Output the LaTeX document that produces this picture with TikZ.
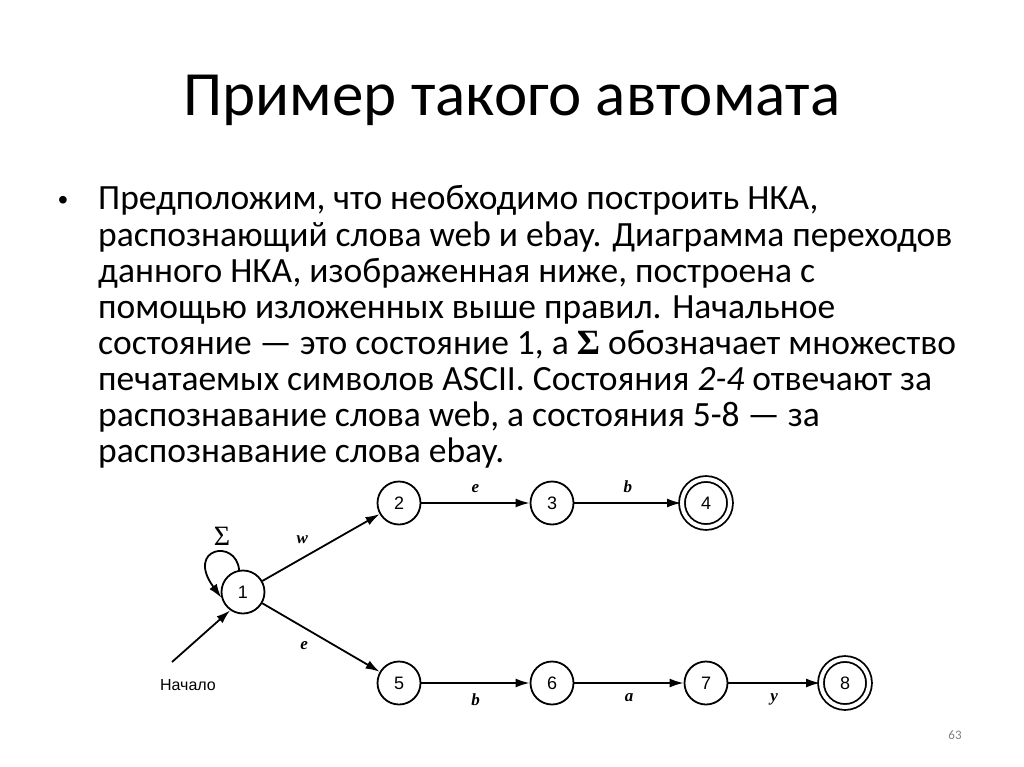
\documentclass[tikz,border=0pt]{standalone}
\usepackage{fontspec}
\setmainfont{Carlito}
\newfontfamily\dsans{Liberation Sans}
\newfontfamily\dserif{Liberation Serif}
\usetikzlibrary{arrows.meta}
\begin{document}
\begin{tikzpicture}[x=1pt,y=-1pt,
  st/.style={circle,draw,line width=1.8pt,minimum size=43pt,inner sep=0pt,font=\dsans\fontsize{18}{18}\selectfont},
  acc/.style={st,double,double distance=4pt,minimum size=48pt},
  tr/.style={line width=1.8pt,-{Latex[length=14pt,width=9pt]}},
  lab/.style={font=\dserif\itshape\bfseries\fontsize{17}{17}\selectfont},
  line/.style={anchor=base west,inner sep=0pt,font=\fontsize{35.5}{36}\selectfont}]
\useasboundingbox (0,0) rectangle (1024,767);
\node (title) at (512,100) {\fontsize{63}{64}\selectfont Пример такого автомата};
\node[anchor=base west,inner sep=0pt,font=\dsans\fontsize{28}{36}\selectfont] (bul) at (58,210) {•};
\node[line] (l1) at (98,210) {Предположим, что необходимо построить НКА,};
\node[line] (l2) at (98,246) {распознающий слова web и ebay. Диаграмма переходов};
\node[line] (l3) at (98,282) {данного НКА, изображенная ниже, построена с};
\node[line] (l4) at (98,318) {помощью изложенных выше правил. Начальное};
\node[line] (l5) at (98,354) {состояние — это состояние 1, а \textbf{\dserif Σ} обозначает множество};
\node[line] (l6) at (98,390) {печатаемых символов ASCII. Состояния \textit{2-4} отвечают за};
\node[line] (l7) at (98,426) {распознавание слова web, а состояния 5-8 — за};
\node[line] (l8) at (98,462) {распознавание слова ebay.};

\node[st] (n1) at (243,592) {1};
\node[st] (n2) at (399,503) {2};
\node[st] (n3) at (552,503) {3};
\node[acc] (n4) at (706,503) {4};
\node[st] (n5) at (399,683) {5};
\node[st] (n6) at (552,683) {6};
\node[st] (n7) at (706,683) {7};
\node[acc] (n8) at (845,683) {8};
\node[font=\dsans\fontsize{16}{16}\selectfont] (start) at (188,685) {Начало};
\coordinate (s0) at (172,662);
\draw[tr] (s0) -- (n1.-125);
\draw[tr] (n1.100) .. controls (236,538) and (185,548) .. (n1.195);
\node[font=\dserif\fontsize{28}{28}\selectfont] (sig) at (222,536) {Σ};
\draw[tr] (n1) -- (n2) node[lab,pos=0.45,above left=3pt] {w};
\draw[tr] (n1) -- (n5) node[lab,pos=0.45,below left=3pt] {e};
\draw[tr] (n2) -- (n3) node[lab,midway,above=6pt] {e};
\draw[tr] (n3) -- (n4) node[lab,midway,above=6pt] {b};
\draw[tr] (n5) -- (n6) node[lab,midway,below=6pt] {b};
\draw[tr] (n6) -- (n7) node[lab,midway,below=6pt] {a};
\draw[tr] (n7) -- (n8) node[lab,midway,below=6pt] {y};
\node[text=gray,font=\fontsize{13}{13}\selectfont] (pg) at (955,735) {63};
\end{tikzpicture}
\end{document}
